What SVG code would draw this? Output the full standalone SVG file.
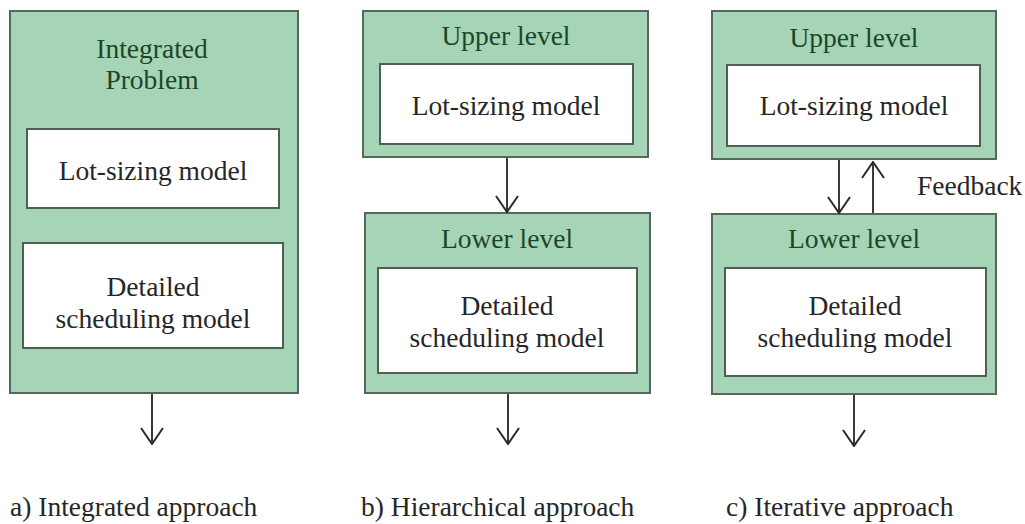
<svg xmlns="http://www.w3.org/2000/svg" width="1025" height="524" viewBox="0 0 1025 524">
<style>
.outer{fill:#a5d5b6;stroke:#56685c;stroke-width:2}
.inner{fill:#ffffff;stroke:#4f5f55;stroke-width:2}
text{font-family:"Liberation Serif","Times New Roman",serif;font-size:27.5px;text-anchor:middle}
.g{fill:#1c4529}
.k{fill:#262626}
.cap{fill:#262626;text-anchor:start}
.conn{stroke:#3a3a3a;stroke-width:2;fill:none}
</style>
<defs>
<marker id="arr" viewBox="0 0 18 24" refX="17" refY="12" markerWidth="18" markerHeight="24" markerUnits="userSpaceOnUse" orient="auto">
<path d="M1,1 L17,12 L1,23" fill="none" stroke="#2a2a2a" stroke-width="2"/>
</marker>
</defs>
<rect width="1025" height="524" fill="#ffffff"/>

<g id="panel-a">
<rect class="outer" x="10" y="11" width="288" height="382"/>
<text class="g" x="152" y="58">Integrated</text>
<text class="g" x="152" y="89">Problem</text>
</g>
<g id="a-lotsizing">
<rect class="inner" x="27" y="129" width="252" height="79"/>
<text class="k" x="153" y="180">Lot-sizing model</text>
</g>
<g id="a-scheduling">
<rect class="inner" x="23" y="243" width="260" height="105"/>
<text class="k" x="153" y="296">Detailed</text>
<text class="k" x="153" y="328">scheduling model</text>
</g>

<g id="panel-b-upper">
<rect class="outer" x="363" y="11" width="285" height="146"/>
<text class="g" x="506" y="45">Upper level</text>
</g>
<g id="b-lotsizing">
<rect class="inner" x="380" y="64" width="253" height="80"/>
<text class="k" x="506" y="115">Lot-sizing model</text>
</g>
<g id="panel-b-lower">
<rect class="outer" x="365" y="213" width="285" height="180"/>
<text class="g" x="507" y="248">Lower level</text>
</g>
<g id="b-scheduling">
<rect class="inner" x="378" y="268" width="259" height="105"/>
<text class="k" x="507" y="315">Detailed</text>
<text class="k" x="507" y="347">scheduling model</text>
</g>

<g id="panel-c-upper">
<rect class="outer" x="712" y="11" width="284" height="148"/>
<text class="g" x="854" y="47">Upper level</text>
</g>
<g id="c-lotsizing">
<rect class="inner" x="727" y="65" width="253" height="81"/>
<text class="k" x="854" y="115">Lot-sizing model</text>
</g>
<g id="panel-c-lower">
<rect class="outer" x="712" y="214" width="284" height="180"/>
<text class="g" x="854" y="248">Lower level</text>
</g>
<g id="c-scheduling">
<rect class="inner" x="725" y="268" width="261" height="108"/>
<text class="k" x="855" y="315">Detailed</text>
<text class="k" x="855" y="347">scheduling model</text>
</g>

<g id="connectors">
<line class="conn" x1="152" y1="394" x2="152" y2="444" marker-end="url(#arr)"/>
<line class="conn" x1="507" y1="158" x2="507" y2="212" marker-end="url(#arr)"/>
<line class="conn" x1="508" y1="394" x2="508" y2="444" marker-end="url(#arr)"/>
<line class="conn" x1="839" y1="160" x2="839" y2="213" marker-end="url(#arr)"/>
<line class="conn" x1="873" y1="213" x2="873" y2="162" marker-end="url(#arr)"/>
<line class="conn" x1="854" y1="395" x2="854" y2="446" marker-end="url(#arr)"/>
</g>

<g id="labels">
<text class="cap" x="917" y="195">Feedback</text>
<text class="cap" x="10" y="516">a) Integrated approach</text>
<text class="cap" x="361" y="516">b) Hierarchical approach</text>
<text class="cap" x="726" y="516">c) Iterative approach</text>
</g>
</svg>
